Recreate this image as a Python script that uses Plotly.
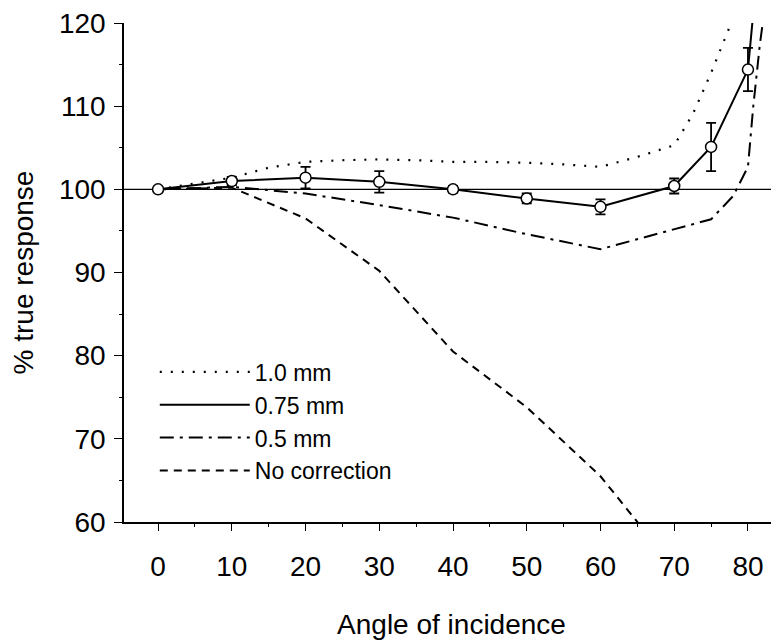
import plotly.graph_objects as go

# --- data ---
angles_meas = [0, 10, 20, 30, 40, 50, 60, 70, 75, 80]
resp_075 = [100.0, 101.0, 101.4, 100.9, 100.0, 98.9, 97.9, 100.4, 105.1, 114.4]
err_075 = [0.3, 0.5, 1.3, 1.3, 0.4, 0.6, 0.9, 0.9, 2.9, 2.6]
angles_075_line = [0, 10, 20, 30, 40, 50, 60, 70, 75, 80, 80.7]
resp_075_line = [100.0, 101.0, 101.4, 100.9, 100.0, 98.9, 97.9, 100.4, 105.1, 114.4, 121.0]

angles_10 = [0, 10, 15, 20, 25, 30, 35, 40, 45, 50, 55, 60, 65, 70, 72.5, 75, 77.5, 78.5]
resp_10 = [100.0, 101.4, 102.6, 103.3, 103.5, 103.6, 103.5, 103.3, 103.3, 103.2, 103.0,
           102.7, 103.9, 105.3, 109.0, 114.0, 119.5, 122.0]

angles_05 = [0, 10, 20, 30, 40, 50, 60, 70, 75, 78, 80, 80.7, 81.6, 82.3]
resp_05 = [100.0, 100.3, 99.5, 98.1, 96.6, 94.6, 92.8, 95.2, 96.4, 99.2, 102.7, 109.8,
           117.3, 122.0]

angles_nc = [0, 10, 20, 30, 40, 50, 60, 70]
resp_nc = [100.0, 100.2, 96.5, 90.2, 80.5, 73.8, 65.5, 54.5]

x_ticks = [0, 10, 20, 30, 40, 50, 60, 70, 80]
y_ticks = [60, 70, 80, 90, 100, 110, 120]

FONT = "Liberation Sans, Arial, sans-serif"

fig = go.Figure()

fig.add_trace(go.Scatter(x=angles_10, y=resp_10, mode="lines", name="1.0 mm",
                         line=dict(color="black", width=2.2, dash="2px,9px")))
fig.add_trace(go.Scatter(x=angles_075_line, y=resp_075_line, mode="lines", name="0.75 mm",
                         line=dict(color="black", width=2)))
fig.add_trace(go.Scatter(x=angles_05, y=resp_05, mode="lines", name="0.5 mm",
                         line=dict(color="black", width=2, dash="14px,6px,3px,6px")))
fig.add_trace(go.Scatter(x=angles_nc, y=resp_nc, mode="lines", name="No correction",
                         line=dict(color="black", width=2, dash="8px,6px")))
fig.add_trace(go.Scatter(x=angles_meas, y=resp_075, mode="markers", showlegend=False,
                         marker=dict(symbol="circle", size=11, color="white",
                                     line=dict(color="black", width=1.5)),
                         error_y=dict(type="data", array=err_075, visible=True,
                                      color="black", thickness=1.8, width=5)))

fig.add_hline(y=100, line=dict(color="black", width=1.2), layer="below")

fig.update_layout(
    width=771, height=632,
    margin=dict(l=116, r=0, t=10, b=118),
    paper_bgcolor="white", plot_bgcolor="white",
    font=dict(family=FONT, color="black"),
    showlegend=True,
    legend=dict(x=0.047, y=0.344, xanchor="left", yanchor="top",
                bgcolor="rgba(0,0,0,0)", borderwidth=0,
                font=dict(size=23, family=FONT), itemwidth=90,
                tracegroupgap=0),
    xaxis=dict(range=[-4.62, 84.21], tickvals=x_ticks, ticktext=[str(v) for v in x_ticks],
               showline=True, linecolor="black", linewidth=1.5,
               ticks="outside", ticklen=7, tickcolor="black", tickwidth=1.2,
               showgrid=False, zeroline=False, ticklabelstandoff=12,
               tickfont=dict(size=28, family=FONT),
               title=dict(text="Angle of incidence", font=dict(size=28, family=FONT),
                          standoff=33),
               minor=dict(dtick=5, tick0=0, ticks="outside", ticklen=3,
                          tickcolor="black", showgrid=False)),
    yaxis=dict(range=[60, 120], tickvals=y_ticks, ticktext=[str(v) for v in y_ticks],
               showline=True, linecolor="black", linewidth=1.5,
               ticks="outside", ticklen=8, tickcolor="black", tickwidth=1.2,
               showgrid=False, zeroline=False, ticklabelstandoff=3,
               ticklabeloverflow="allow",
               tickfont=dict(size=28, family=FONT),
               title=dict(text="% true response", font=dict(size=28, family=FONT),
                          standoff=20),
               minor=dict(dtick=5, tick0=0, ticks="outside", ticklen=3,
                          tickcolor="black", showgrid=False)),
)

fig.write_html("out.html")
